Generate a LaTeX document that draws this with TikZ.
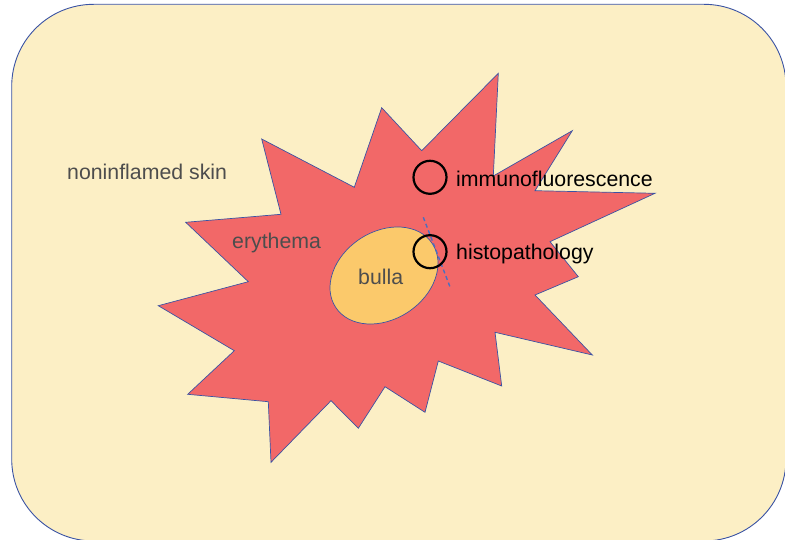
\documentclass[tikz,border=0pt]{standalone}
\usepackage{fontspec}
\setmainfont{Liberation Sans}
\usetikzlibrary{positioning}

\definecolor{skincream}{HTML}{FCEFC5}
\definecolor{rashred}{HTML}{F26868}
\definecolor{blisterorange}{HTML}{FBC96B}
\definecolor{edgeblue}{HTML}{3A53A4}
\definecolor{cutblue}{HTML}{4A6FC0}
\definecolor{labelgrey}{HTML}{4D4D4D}

\begin{document}
\begin{tikzpicture}[
  x=1pt,y=-1pt,
  font=\fontsize{21.3}{25}\selectfont,
  skin/.style={draw=edgeblue,line width=0.9pt,fill=skincream,rounded corners=82pt},
  rash/.style={draw=edgeblue,line width=0.7pt,fill=rashred,line join=miter},
  blister/.style={draw=edgeblue,line width=0.7pt,fill=blisterorange},
  probe/.style={circle,draw=black,line width=2.2pt,minimum size=33pt,inner sep=0pt},
  cut/.style={draw=cutblue,line width=1.4pt,dash pattern=on 4pt off 3pt},
  zone/.style={anchor=base west,inner sep=0pt,text=labelgrey},
  method/.style={anchor=base west,inner sep=0pt,text=black}
]
  \useasboundingbox (0,0) rectangle (785,540);

  % skin area
  \path[skin] (11.7,4.3) rectangle (786,541);

  % erythema
  \path[rash] (261.7,139) -- (354.3,187.3) -- (381.7,107.7) -- (421.7,150.7)
    -- (498.3,73.3) -- (493.3,176) -- (572.3,130.7) -- (535,190.7)
    -- (655,193.3) -- (550,241.7) -- (578.3,276.7) -- (535,295)
    -- (592.3,355) -- (495,332.3) -- (501.7,386) -- (438.3,361)
    -- (425,412.3) -- (385,386.7) -- (358.3,428.3) -- (331,400.7)
    -- (271,462.3) -- (268.3,401.7) -- (187.7,394.3) -- (234.3,350.7)
    -- (158.3,305.7) -- (248.3,281.7) -- (185.7,222.3) -- (281,214.3) -- cycle;

  % bulla
  \path[blister,shift={(384,275.5)},rotate=33.5] (0,0) ellipse [x radius=57.9pt,y radius=43.8pt];

  % biopsy cut
  \coordinate (cuttop) at (423.3,217.3);
  \coordinate (cutbottom) at (450.7,288.7);
  \draw[cut] (cuttop) -- (cutbottom);

  \node[probe] (ifspot) at (430,177.3) {};
  \node[probe] (hpspot) at (430,251.7) {};

  \node[zone] (skinlabel) at (67,180) {noninflamed skin};
  \node[zone] (erylabel) at (232,249) {erythema};
  \node[zone] (bullalabel) at (358,285) {bulla};
  \node[method] (iflabel) at (456,186.7) {immunofluorescence};
  \node[method] (hplabel) at (456,260) {histopathology};
\end{tikzpicture}
\end{document}
